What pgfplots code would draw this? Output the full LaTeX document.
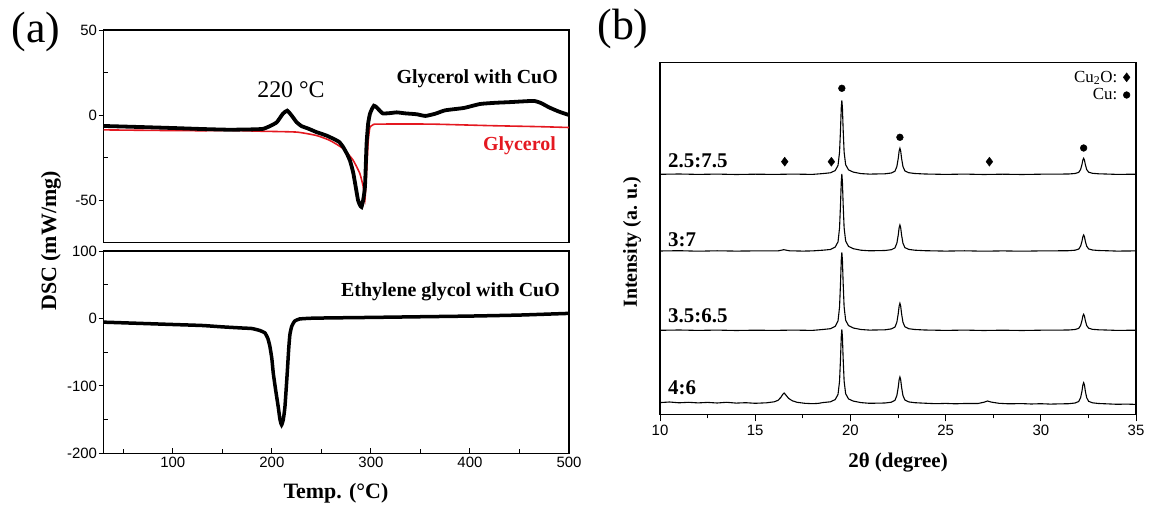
\documentclass[border=0pt]{standalone}
\usepackage{fontspec}
\setmainfont{Liberation Serif}
\setsansfont{Liberation Sans}
\usepackage{pgfplots}
\pgfplotsset{compat=1.18}
\definecolor{dscred}{RGB}{228,24,32}

\begin{document}
\begin{tikzpicture}
\useasboundingbox (0,0) rectangle (1150bp,506bp);
\pgfplotsset{
  every axis/.append style={
    scale only axis,
    axis line style={line width=1.1bp},
    every tick/.append style={line width=1bp, black},
    tick label style={font=\fontsize{15}{16}\selectfont\sffamily},
    /pgf/number format/assume math mode=true,
  }
}
% ---------------- (a) top ----------------
\begin{axis}[at={(103.5bp,263.3bp)}, anchor=south west,
  width=465.5bp, height=212.7bp,
  xmin=30, xmax=500, ymin=-75, ymax=50,
  xtick=\empty, ytick={-50,0,50}, minor ytick={-25,25},
  ytick pos=left, tick align=inside,
  major tick length=5bp, minor tick length=4bp,
  major y tick style={xshift=-5bp},
  yticklabel style={xshift=-3bp}]
\addplot[dscred, line width=1.6bp, smooth, tension=0.3] coordinates {
(30,-8.7)(80,-9)(130,-9.2)(157,-9)(190,-9.5)(225,-10)(245,-12)(258.6,-14.9)
(272,-19.7)(282,-26.5)(288.8,-34.3)(292.2,-42)(293.9,-50)(295.6,-34)(297.3,-15)
(299,-7.2)(302,-5.8)(306,-5.3)(360,-5.3)(420,-6.2)(470,-6.8)(500,-7.3)};
\addplot[black, line width=3.8bp, smooth, tension=0.3] coordinates {
(30,-6.4)(60,-6.9)(100,-7.6)(130,-8.2)(157,-8.6)(180,-8.4)(191,-8.1)(198,-6.5)
(205,-4.2)(211,0.7)(215.5,2.6)(220,-0.3)(225,-4.2)(230,-6.5)(237,-8)(245,-10)
(255,-12)(262,-13.9)(268,-15.8)(272,-18.8)(276,-23)(279,-27)(282,-33.5)(284,-40)
(287,-50)(289,-53)(290.5,-54)(292,-50.5)(294,-42)(295.6,-17)(297.2,-5)(299,0.7)
(301,3.5)(303,5.5)(305,5)(307.3,3.6)(312,1)(320,1.2)(326,1.6)(335,1)(346,0.5)
(355,-0.5)(365,0.8)(375,2.8)(394,4.2)(410,6.5)(425,7.2)(440,7.6)(455,8.1)
(465,8.3)(472,7)(480,4.5)(490,2)(500,0)};
\end{axis}
% ---------------- (a) bottom ----------------
\begin{axis}[at={(103.5bp,52.7bp)}, anchor=south west,
  width=465.5bp, height=202.3bp,
  xmin=30, xmax=500, ymin=-200, ymax=100,
  xtick={100,200,300,400,500}, minor xtick={50,150,250,350,450},
  ytick={-200,-100,0,100}, minor ytick={-150,-50,50},
  xtick pos=bottom, ytick pos=left, tick align=inside,
  major tick length=5bp, minor tick length=4bp,
  major y tick style={xshift=-5bp},
  yticklabel style={xshift=-3bp}]
\addplot[black, line width=3.5bp, smooth, tension=0.3] coordinates {
(30,-5.5)(60,-7)(100,-9)(130,-10.5)(150,-12.5)(170,-14.2)(180,-15)(188,-18)
(193,-21.5)(196,-30)(198,-41.5)(200,-60)(201.4,-81)(204,-108)(206.4,-131)
(208.2,-150)(209.8,-158)(211.5,-150)(213.2,-131)(215.5,-81)(217,-45)(218.2,-24)
(220,-12)(223,-4)(228,-0.8)(240,0.3)(260,0.8)(300,1.5)(350,2.5)(400,3.5)(450,5)(500,7.5)};
\end{axis}
% ---------------- (b) ----------------
\begin{axis}[at={(660bp,91.7bp)}, anchor=south west,
  width=476bp, height=351.8bp,
  xmin=10, xmax=35, ymin=0, ymax=351.8,
  xtick={10,15,20,25,30,35}, minor xtick={12.5,17.5,22.5,27.5,32.5},
  ytick=\empty, xtick pos=bottom, tick align=outside,
  major tick length=7bp, minor tick length=4bp,
  legend plot pos=right,
  legend style={at={(0.99,0.985)}, anchor=north east, draw=none, fill=none,
    font=\fontsize{17}{19}\selectfont, row sep=1bp, inner sep=1bp,
    cells={anchor=east}}]
\addplot[black, line width=1.1bp, forget plot] coordinates {
(10,240.0)(11,240.3)(12,239.9)(13,240.2)(14,239.8)(15,240.1)(16,239.9)(17,240.2)(18,239.9)
(18.55,240.7)(18.95,241.5)(19.20,243.7)(19.35,248.9)(19.43,262.2)(19.48,284.4)(19.52,306.6)(19.55,314)(19.58,306.6)(19.62,284.4)(19.67,262.2)(19.75,249.6)(19.90,244.4)(20.15,242.2)(20.55,240.7)
(21,240.2)
(21.3,240.3)(21.82,240.5)(22.15,241.3)(22.34,243.1)(22.44,247.8)(22.51,255.6)(22.56,263.4)(22.6,266)(22.64,263.4)(22.69,255.6)(22.76,247.8)(22.86,243.4)(23.06,241.6)(23.38,240.8)(23.9,240.3)
(25,239.9)(26,240.2)(27,239.8)(28,240.1)(29,239.8)(30,240.1)
(30.95,240.2)(31.47,240.3)(31.8,240.8)(31.99,241.9)(32.09,244.8)(32.16,249.6)(32.21,254.4)(32.25,256)(32.29,254.4)(32.34,249.6)(32.41,244.8)(32.51,242.1)(32.71,241)(33.03,240.5)(33.55,240.2)
(34,239.9)(35,240.1)};
\addplot[black, line width=1.1bp, forget plot] coordinates {
(10,163.3)(11,163.6)(12,163.1)(13,163.5)(14,163.2)(15,163.4)(16.2,163.4)(16.5,164.6)(16.8,163.5)(17.5,163.2)(18,163.4)
(18.55,164.1)(18.95,164.8)(19.20,167.2)(19.35,172.5)(19.43,186.4)(19.48,209.5)(19.52,232.6)(19.55,240.3)(19.58,232.6)(19.62,209.5)(19.67,186.4)(19.75,173.3)(19.90,167.9)(20.15,165.6)(20.55,164.1)
(21,163.5)
(21.3,163.6)(21.82,163.8)(22.15,164.6)(22.34,166.4)(22.44,171.1)(22.51,178.9)(22.56,186.7)(22.6,189.3)(22.64,186.7)(22.69,178.9)(22.76,171.1)(22.86,166.7)(23.06,164.9)(23.38,164.1)(23.9,163.6)
(25,163.2)(26,163.5)(27,163.1)(28,163.4)(29,163.1)(30,163.4)
(30.95,163.5)(31.47,163.6)(31.8,164.1)(31.99,165.2)(32.09,168.1)(32.16,172.9)(32.21,177.7)(32.25,179.3)(32.29,177.7)(32.34,172.9)(32.41,168.1)(32.51,165.4)(32.71,164.3)(33.03,163.8)(33.55,163.5)
(34,163.2)(35,163.4)};
\addplot[black, line width=1.1bp, forget plot] coordinates {
(10,84)(11,84.3)(12,83.9)(13,84.2)(14,83.8)(15,84.1)(16,83.9)(17,84.2)(18,83.9)
(18.55,84.8)(18.95,85.6)(19.20,87.9)(19.35,93.4)(19.43,107.4)(19.48,130.8)(19.52,154.2)(19.55,162)(19.58,154.2)(19.62,130.8)(19.67,107.4)(19.75,94.1)(19.90,88.7)(20.15,86.3)(20.55,84.8)
(21,84.2)
(21.3,84.3)(21.82,84.5)(22.15,85.4)(22.34,87.2)(22.44,92.1)(22.51,100.2)(22.56,108.3)(22.6,111)(22.64,108.3)(22.69,100.2)(22.76,92.1)(22.86,87.5)(23.06,85.6)(23.38,84.8)(23.9,84.3)
(25,83.9)(26,84.2)(27,83.8)(28,84.1)(29,83.8)(30,84.1)
(30.95,84.2)(31.47,84.3)(31.8,84.8)(31.99,85.9)(32.09,88.8)(32.16,93.6)(32.21,98.4)(32.25,100)(32.29,98.4)(32.34,93.6)(32.41,88.8)(32.51,86.1)(32.71,85)(33.03,84.5)(33.55,84.2)
(34,83.9)(35,84.1)};
\addplot[black, line width=1.1bp, forget plot] coordinates {
(10,11.7)(10.5,12.3)(11,11.5)(11.5,12)(12,11.4)(12.5,11.9)(13,11.3)(13.5,12)(14,11.2)(14.5,11.6)(15,11.0)(15.6,11.5)(16.0,12.5)(16.2,14)(16.35,17)(16.45,20)(16.52,21.3)(16.6,19.5)(16.75,16)(16.95,13.5)(17.2,12)(17.6,11)(18,10.6)(18.3,10.9)
(18.55,11.7)(18.95,12.5)(19.20,14.7)(19.35,19.9)(19.43,33.2)(19.48,55.4)(19.52,77.6)(19.55,85)(19.58,77.6)(19.62,55.4)(19.67,33.2)(19.75,20.6)(19.90,15.4)(20.15,13.2)(20.55,11.7)
(21,11.0)
(21.3,11.1)(21.82,11.3)(22.15,12.1)(22.34,14.0)(22.44,18.8)(22.51,26.7)(22.56,34.7)(22.6,37.3)(22.64,34.7)(22.69,26.7)(22.76,18.8)(22.86,14.3)(23.06,12.4)(23.38,11.6)(23.9,11.1)
(24.5,10.6)(25,10.9)(25.5,10.5)(26,10.8)(26.7,10.8)(27.0,12)(27.2,13.3)(27.4,12.2)(27.8,11)(28.3,10.5)(29,10.7)(29.5,10.3)(30,10.6)(30.5,10.2)
(30.95,10.4)(31.47,10.6)(31.8,11.3)(31.99,12.8)(32.09,16.6)(32.16,23.0)(32.21,29.5)(32.25,31.6)(32.29,29.5)(32.34,23.0)(32.41,16.6)(32.51,13.0)(32.71,11.5)(33.03,10.8)(33.55,10.4)
(34,10.0)(34.5,10.2)(35,9.9)};
\addplot[only marks, mark=diamond*, mark size=4.5bp, black] coordinates {(16.55,252.6)(19.0,252.6)(27.3,252.6)};
\addlegendentry{Cu\textsubscript{2}O:\hspace*{4bp}}
\addplot[only marks, mark=*, mark size=3.4bp, black] coordinates {(19.55,326)(22.6,277)(32.25,266.3)};
\addlegendentry{Cu:\hspace*{4bp}}
\node[anchor=west, inner sep=0pt, font=\fontsize{21}{23}\selectfont\bfseries] at (axis cs:10.42,253.3) {2.5:7.5};
\node[anchor=west, inner sep=0pt, font=\fontsize{21}{23}\selectfont\bfseries] at (axis cs:10.42,174.3) {3:7};
\node[anchor=west, inner sep=0pt, font=\fontsize{21}{23}\selectfont\bfseries] at (axis cs:10.42,98.3) {3.5:6.5};
\node[anchor=west, inner sep=0pt, font=\fontsize{21}{23}\selectfont\bfseries] at (axis cs:10.42,26.3) {4:6};
\end{axis}
% ---------------- texts ----------------
\node[font=\fontsize{44}{48}\selectfont] at (36bp,474bp) {(a)};
\node[font=\fontsize{44}{48}\selectfont] at (623bp,477bp) {(b)};
\node[font=\fontsize{24}{26}\selectfont] at (291bp,416bp) {220 °C};
\node[anchor=east, inner sep=0pt, font=\fontsize{20}{22}\selectfont\bfseries] at (558bp,427bp) {Glycerol with CuO};
\node[anchor=east, inner sep=0pt, text=dscred, font=\fontsize{20}{22}\selectfont\bfseries] at (556bp,360bp) {Glycerol};
\node[anchor=east, inner sep=0pt, font=\fontsize{20}{22}\selectfont\bfseries] at (560bp,214bp) {Ethylene glycol with CuO};
\node[rotate=90, font=\fontsize{22}{24}\selectfont\bfseries] at (51bp,265bp) {DSC (mW/mg)};
\node[font=\fontsize{22}{24}\selectfont\bfseries] at (336bp,13bp) {Temp. (°C)};
\node[rotate=90, font=\fontsize{20}{22}\selectfont\bfseries] at (632bp,264bp) {Intensity (a. u.)};
\node[font=\fontsize{21}{23}\selectfont\bfseries] at (898bp,44bp) {2θ (degree)};
\end{tikzpicture}
\end{document}
